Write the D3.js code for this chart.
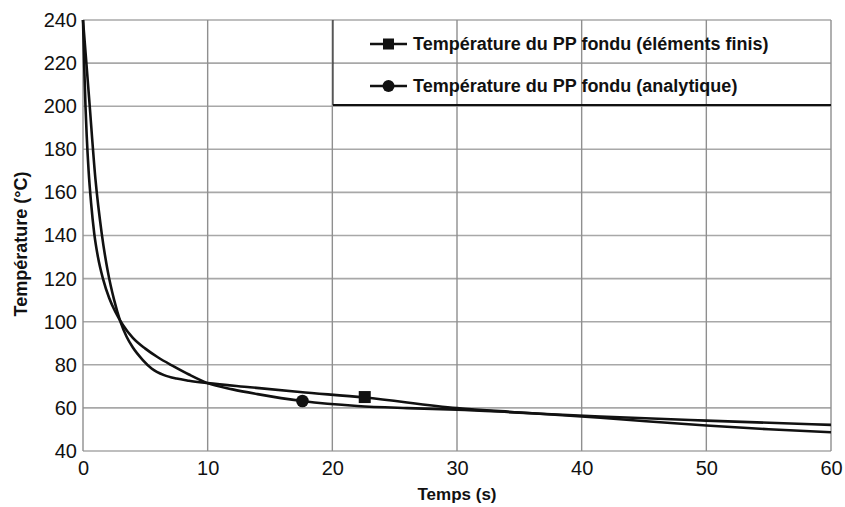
<!DOCTYPE html>
<html><head><meta charset="utf-8">
<script src="https://cdn.jsdelivr.net/npm/d3@7"></script>
<style>body{margin:0;background:#fff}svg{display:block}</style>
</head><body>
<svg id="c" width="845" height="507"></svg>
<script>
// Data
const xTicks = [0,10,20,30,40,50,60];
const yTicks = [40,60,80,100,120,140,160,180,200,220,240];
const feTime = [0,0.5,1.0,1.5,2.0,2.5,3.0,3.5,4.0,4.8,5.5,6.5,7.5,8.5,10,13.4,17.4,22.6,30,35,41.5,50,55,60];
const feTemp = [240,203,166,141,123,110,100,93,88,82.2,78.3,75.2,73.6,72.6,71.5,69.6,67.4,64.8,59.9,57.9,55.4,51.8,50.1,48.7];
const anTime = [0,0.1,0.2,0.3,0.45,0.65,0.9,1.2,1.6,2.1,2.6,3.2,4.0,5.0,6.0,7.2,8.5,10,12,14,17.6,22,26,30,35,41.5,50,60];
const anTemp = [240,218,200,186,170,155,141,130,120,111,104.5,98.5,92.5,87.5,83.5,79.5,75.5,71.5,68.6,66.4,63.2,60.9,59.9,59.2,57.8,56.0,54.1,52.1];
const feMarkerT = 22.6, anMarkerT = 17.6;
const legendLabels = ["Température du PP fondu (éléments finis)", "Température du PP fondu (analytique)"];
const xTitle = "Temps (s)", yTitle = "Température (°C)";

const svg = d3.select("#c");
const font = "'Liberation Sans', Arial, sans-serif";
const x = d3.scaleLinear().domain([0,60]).range([83,831]);
const y = d3.scaleLinear().domain([40,240]).range([451,20]);

// grid
const g = svg.append("g");
g.selectAll("line.h").data(yTicks).join("line")
  .attr("x1",x(0)).attr("x2",x(60)).attr("y1",d=>y(d)).attr("y2",d=>y(d))
  .attr("stroke","#a8a8a8").attr("stroke-width",1.6);
g.selectAll("line.v").data(xTicks).join("line")
  .attr("y1",y(40)).attr("y2",y(240)).attr("x1",d=>x(d)).attr("x2",d=>x(d))
  .attr("stroke","#8f8f8f").attr("stroke-width",1.4);

// axes (labels only)
const xa = svg.append("g").attr("transform",`translate(0,${y(40)})`)
  .call(d3.axisBottom(x).tickValues(xTicks).tickSize(0).tickPadding(10).tickFormat(d3.format("d")));
const ya = svg.append("g").attr("transform",`translate(${x(0)},0)`)
  .call(d3.axisLeft(y).tickValues(yTicks).tickSize(0).tickPadding(6).tickFormat(d3.format("d")));
[xa,ya].forEach(a=>{a.select(".domain").remove();
  a.selectAll("text").attr("font-family",font).attr("font-size",20).attr("fill","#111");});

// legend box
const lx = 333, ly = 20, lr = 831, lb = 105;
svg.append("line").attr("x1",lx).attr("x2",lx).attr("y1",ly).attr("y2",lb).attr("stroke","#333").attr("stroke-width",1.2);
svg.append("line").attr("x1",lx).attr("x2",lr).attr("y1",lb).attr("y2",lb).attr("stroke","#111").attr("stroke-width",2);

// curves
const line = d3.line().x(d=>x(d[0])).y(d=>y(d[1])).curve(d3.curveMonotoneX);
const fe = feTime.map((t,i)=>[t,feTemp[i]]);
const an = anTime.map((t,i)=>[t,anTemp[i]]);
[fe,an].forEach(d=>svg.append("path").attr("d",line(d)).attr("fill","none")
  .attr("stroke","#111").attr("stroke-width",2.6));

function interp(ts,vs,t){ for(let i=1;i<ts.length;i++){ if(t<=ts[i]){const f=(t-ts[i-1])/(ts[i]-ts[i-1]);return vs[i-1]+f*(vs[i]-vs[i-1]);}} return vs[vs.length-1]; }
const sq = 12;
svg.append("rect").attr("x",x(feMarkerT)-sq/2).attr("y",y(interp(feTime,feTemp,feMarkerT))-sq/2-0.5)
  .attr("width",sq).attr("height",sq).attr("fill","#111");
svg.append("circle").attr("cx",x(anMarkerT)).attr("cy",y(interp(anTime,anTemp,anMarkerT))).attr("r",6.3).attr("fill","#111");

// legend entries
const ent = [44, 86];
legendLabels.forEach((lab,i)=>{
  const yy = ent[i];
  svg.append("line").attr("x1",370).attr("x2",407).attr("y1",yy).attr("y2",yy).attr("stroke","#111").attr("stroke-width",2.6);
  if(i===0) svg.append("rect").attr("x",388.5-5.5).attr("y",yy-5.5).attr("width",11).attr("height",11).attr("fill","#111");
  else svg.append("circle").attr("cx",388.5).attr("cy",yy).attr("r",6).attr("fill","#111");
  svg.append("text").attr("x",413).attr("y",yy).attr("dy","0.35em").attr("font-family",font)
    .attr("font-weight","bold").attr("font-size",18).attr("fill","#111").text(lab);
});

// titles
svg.append("text").attr("x",457).attr("y",500).attr("text-anchor","middle").attr("font-family",font)
  .attr("font-weight","bold").attr("font-size",17).attr("fill","#111").text(xTitle);
svg.append("text").attr("transform","translate(27,244) rotate(-90)").attr("text-anchor","middle").attr("font-family",font)
  .attr("font-weight","bold").attr("font-size",18).attr("fill","#111").text(yTitle);
</script>
</body></html>
